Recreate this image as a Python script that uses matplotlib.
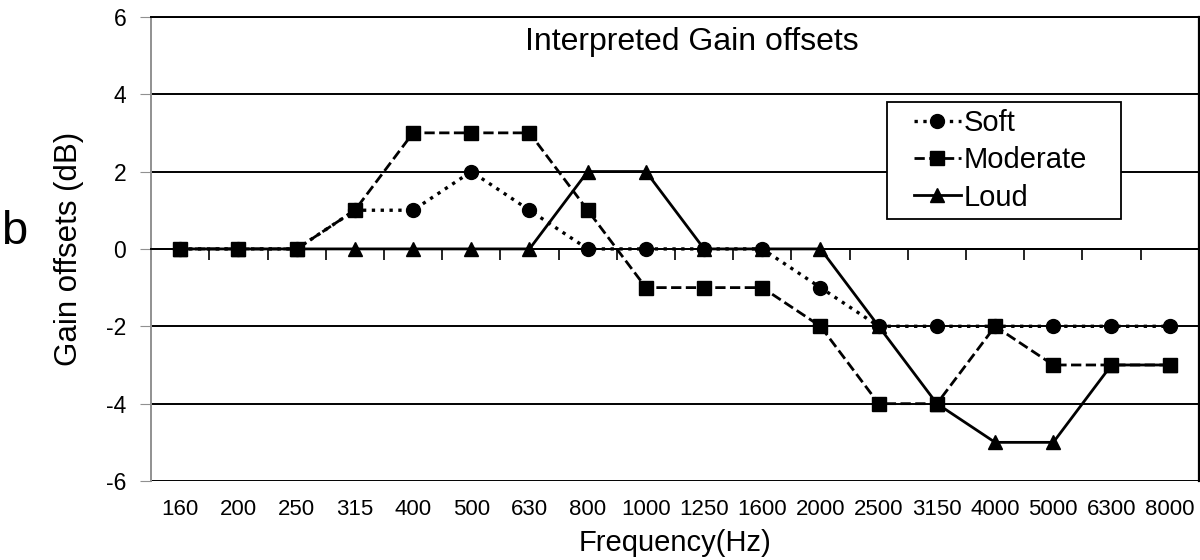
import numpy as np
import matplotlib.pyplot as plt
from matplotlib.patches import Rectangle

plt.rcParams['font.family'] = ['Liberation Sans', 'DejaVu Sans']
plt.rcParams['axes.unicode_minus'] = False

freqs = ["160", "200", "250", "315", "400", "500", "630", "800", "1000", "1250",
         "1600", "2000", "2500", "3150", "4000", "5000", "6300", "8000"]
soft = [0, 0, 0, 1, 1, 2, 1, 0, 0, 0, 0, -1, -2, -2, -2, -2, -2, -2]
moderate = [0, 0, 0, 1, 3, 3, 3, 1, -1, -1, -1, -2, -4, -4, -2, -3, -3, -3]
loud = [0, 0, 0, 0, 0, 0, 0, 2, 2, 0, 0, 0, -2, -4, -5, -5, -3, -3]

x = np.arange(len(freqs))

fig = plt.figure(figsize=(12, 5.6), dpi=100)
ax = fig.add_axes([0.126, 0.141, 0.873, 0.829])

for v in range(-6, 7, 2):
    ax.axhline(v, color='black', lw=1.4, zorder=1)

ax.plot(x, soft, ':', color='black', lw=2.4, marker='o', ms=10, label='Soft', zorder=3)
ax.plot(x, moderate, '--', color='black', lw=2.0, marker='s', ms=10, label='Moderate', zorder=3)
ax.plot(x, loud, '-', color='black', lw=2.0, marker='^', ms=10, label='Loud', zorder=3)

ax.set_xlim(-0.5, len(freqs) - 0.5)
ax.set_ylim(-6, 6)
ax.set_yticks(range(-6, 7, 2))
ax.tick_params(axis='y', labelsize=16.5, length=8, color='#909090', pad=10)

# category axis sits on the zero line, labels stay under the plot
ax.spines['bottom'].set_position(('data', 0))
ax.spines['bottom'].set_linewidth(1.4)
ax.set_xticks(np.arange(-0.5, len(freqs), 1.0))
ax.set_xticklabels([])
ax.tick_params(axis='x', length=8, width=1.2, direction='out')
for i, f in enumerate(freqs):
    ax.text(i, -0.062, f, transform=ax.get_xaxis_transform(), ha='center', va='center', fontsize=16)

ax.spines['left'].set_color('#909090')
ax.spines['left'].set_linewidth(1.4)
ax.spines['right'].set_linewidth(1.6)
ax.spines['top'].set_linewidth(1.4)

ax.text(0.516, 0.946, "Interpreted Gain offsets", transform=ax.transAxes,
        ha='center', va='center', fontsize=23)
ax.set_ylabel("Gain offsets (dB)", fontsize=22.5)
ax.yaxis.set_label_coords(-0.064, 0.5)
fig.text(0.5625, 0.03, "Frequency(Hz)", ha='center', va='center', fontsize=21)
fig.text(0.012, 0.585, "b", ha='center', va='center', fontsize=34)

# legend box drawn separately (wider side padding than matplotlib's frame)
ax.add_patch(Rectangle((0.702, 0.565), 0.224, 0.252, transform=ax.transAxes,
                       facecolor='white', edgecolor='black', lw=1.3, zorder=4))
leg = ax.legend(loc='center left', bbox_to_anchor=(0.728, 0.691), fontsize=21,
                frameon=False, handlelength=1.6, handletextpad=0.1,
                borderpad=0, borderaxespad=0, labelspacing=0.32)
leg.set_zorder(5)

fig.savefig("out.png", dpi=100)
